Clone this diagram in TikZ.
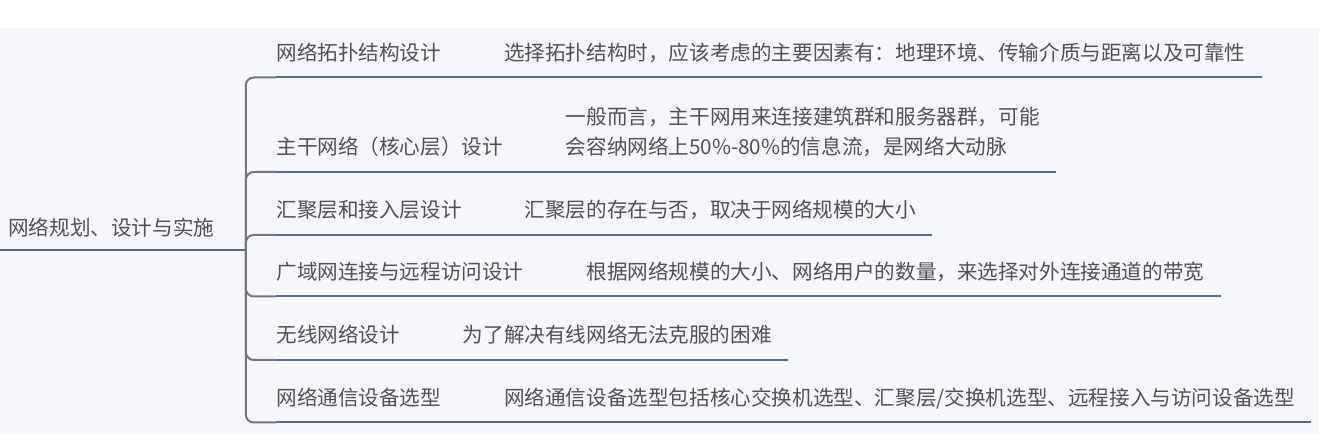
\documentclass[tikz,border=0pt]{standalone}
\usepackage{fontspec}
\usepackage{tikz}
\usetikzlibrary{positioning}
\newfontfamily\cjk{Noto Sans CJK SC}
\definecolor{bgfill}{RGB}{245,247,251}
\definecolor{txtgray}{RGB}{82,82,86}
\definecolor{ulblue}{RGB}{88,106,148}
\definecolor{brgray}{RGB}{112,118,132}
\tikzset{txt/.style = {font=\cjk\fontsize{10.3}{15}\selectfont, text=txtgray,
                       text depth=0pt, inner ysep=8.5pt, anchor=south west}}
\tikzset{topic/.style = {txt, inner xsep=0pt}}
\tikzset{desc/.style = {txt, inner xsep=8pt, align=left}}
\tikzset{uline/.style = {ulblue, line width=1pt}}
\tikzset{branch/.style = {brgray, line width=1pt, rounded corners=4pt}}

\begin{document}
\begin{tikzpicture}[x=0.5pt, y=-0.5pt]
      \useasboundingbox (0, 0) rectangle (1330, 442);
      \fill [bgfill] (0, 28) rectangle (1319, 434);
      \node [txt, inner xsep=4pt, inner ysep=7pt, text width=114.5pt, align=left]
            (root) at (0, 250) {网络规划、设计与实施};
      \node [topic] (t1) at (276, 77.5) {网络拓扑结构设计};
      \node [topic] (t2) at (276, 172) {主干网络（核心层）设计};
      \node [topic] (t3) at (276, 235) {汇聚层和接入层设计};
      \node [topic] (t4) at (276, 296.5) {广域网连接与远程访问设计};
      \node [topic] (t5) at (276, 360) {无线网络设计};
      \node [topic] (t6) at (276, 422.5) {网络通信设备选型};
      \node [desc] (d1) at ([xshift=23pt]t1.south east) {选择拓扑结构时，应该考虑的主要因素有：地理环境、传输介质与距离以及可靠性};
      \node [desc, inner xsep=8pt] (d2) at ([xshift=23pt]t2.south east) {一般而言，主干网用来连接建筑群和服务器群，可能\\会容纳网络上50\%-80\%的信息流，是网络大动脉};
      \node [desc] (d3) at ([xshift=23pt]t3.south east) {汇聚层的存在与否，取决于网络规模的大小};
      \node [desc] (d4) at ([xshift=23pt]t4.south east) {根据网络规模的大小、网络用户的数量，来选择对外连接通道的带宽};
      \node [desc] (d5) at ([xshift=23pt]t5.south east) {为了解决有线网络无法克服的困难};
      \node [desc] (d6) at ([xshift=23pt]t6.south east) {网络通信设备选型包括核心交换机选型、汇聚层/交换机选型、远程接入与访问设备选型};
      \draw [uline] (root.south west) -- (root.south east);
      \foreach \i in {1,...,6} {
        \draw [branch] (root.south east) |- (t\i.south west);
        \draw [uline] (t\i.south west) -- (d\i.south east);
      }
    \end{tikzpicture}
\end{document}
